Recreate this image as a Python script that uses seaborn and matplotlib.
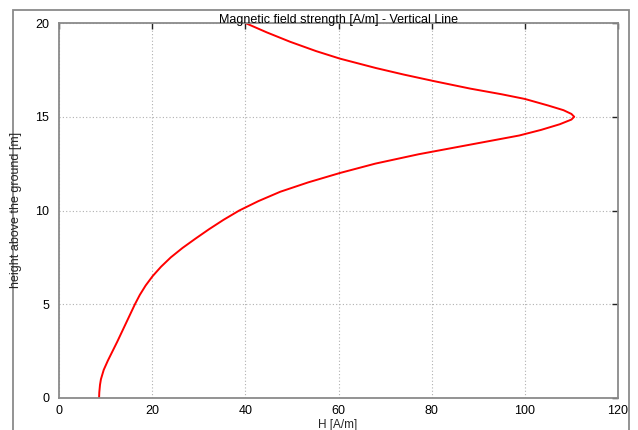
import matplotlib
matplotlib.use("Agg")
import matplotlib.pyplot as plt
from matplotlib.patches import Rectangle
import seaborn as sns
import pandas as pd

# Data
height_m = [0.0, 0.3, 0.7, 1.0, 1.5, 2.0, 2.5, 3.0, 3.5, 4.0, 4.5, 5.0, 5.5,
            6.0, 6.5, 7.0, 7.5, 8.0, 8.5, 9.0, 9.5, 10.0, 10.5, 11.0, 11.5,
            12.0, 12.5, 13.0, 13.5, 14.0, 14.3, 14.6, 14.85, 15.0, 15.15,
            15.35, 15.6, 15.95, 16.2, 16.5, 16.9, 17.25, 17.6, 18.1, 18.5,
            19.0, 19.5, 20.0]
field_H = [8.6, 8.65, 8.8, 9.0, 9.6, 10.5, 11.5, 12.5, 13.45, 14.4, 15.35,
           16.3, 17.35, 18.6, 20.1, 21.9, 24.0, 26.5, 29.3, 32.2, 35.3, 38.7,
           42.8, 47.5, 53.5, 60.3, 67.9, 77.2, 88.0, 98.8, 103.5, 107.5,
           110.0, 110.6, 110.0, 108.3, 105.0, 100.0, 95.0, 88.3, 80.5, 74.0,
           68.0, 60.3, 55.2, 49.6, 44.6, 40.0]
x_ticks = [0, 20, 40, 60, 80, 100, 120]
y_ticks = [0, 5, 10, 15, 20]

title = "Magnetic field strength [A/m] - Vertical Line"
x_label = "H [A/m]"
y_label = "height above the ground [m]"

df = pd.DataFrame({"H": field_H, "h": height_m})

sns.set_style("white")
plt.rcParams["font.family"] = ["Liberation Sans", "DejaVu Sans"]

W, H = 638, 430
fig = plt.figure(figsize=(W / 100, H / 100), dpi=100)
left, right, top, bottom = 59, 618, 23, 398
ax = fig.add_axes([left / W, 1 - bottom / H, (right - left) / W, (bottom - top) / H])

sns.lineplot(data=df, x="H", y="h", sort=False, estimator=None,
             color="#ff0000", linewidth=1.4, ax=ax)
for ln in ax.get_lines():
    ln.set_solid_joinstyle("round")

ax.set_xlim(0, 120)
ax.set_ylim(0, 20)
ax.set_xticks(x_ticks)
ax.set_yticks(y_ticks)
ax.set_xticklabels([str(t) for t in x_ticks])
ax.set_yticklabels([str(t) for t in y_ticks])
ax.set_xlabel("")
ax.set_ylabel("")

ax.grid(True, color="#b0b0b0", linestyle=(0, (1, 2)), linewidth=0.8)
ax.tick_params(axis="both", which="major", direction="in", length=4, width=1,
               color="#222222", labelsize=9, labelcolor="#000000",
               top=True, right=True, pad=7)
ax.tick_params(axis="x", pad=5)
for s in ax.spines.values():
    s.set_color("#8a8a8a")
    s.set_linewidth(1.3)

ax.set_title(title, fontsize=9, pad=0, color="#000000")
fig.text(16 / W, 1 - 210 / H, y_label, rotation=90, fontsize=9,
         ha="center", va="center")
fig.text(338 / W, 1 - 419 / H, x_label, fontsize=8.5, ha="center", va="top")

# Outer frame
fig.patches.append(Rectangle((12.7 / W, -0.05), (629.3 - 12.7) / W, 1.05 - 10 / H,
                             transform=fig.transFigure, fill=False,
                             edgecolor="#8a8a8a", linewidth=1.3, zorder=0))

fig.savefig("out.png", dpi=100)
